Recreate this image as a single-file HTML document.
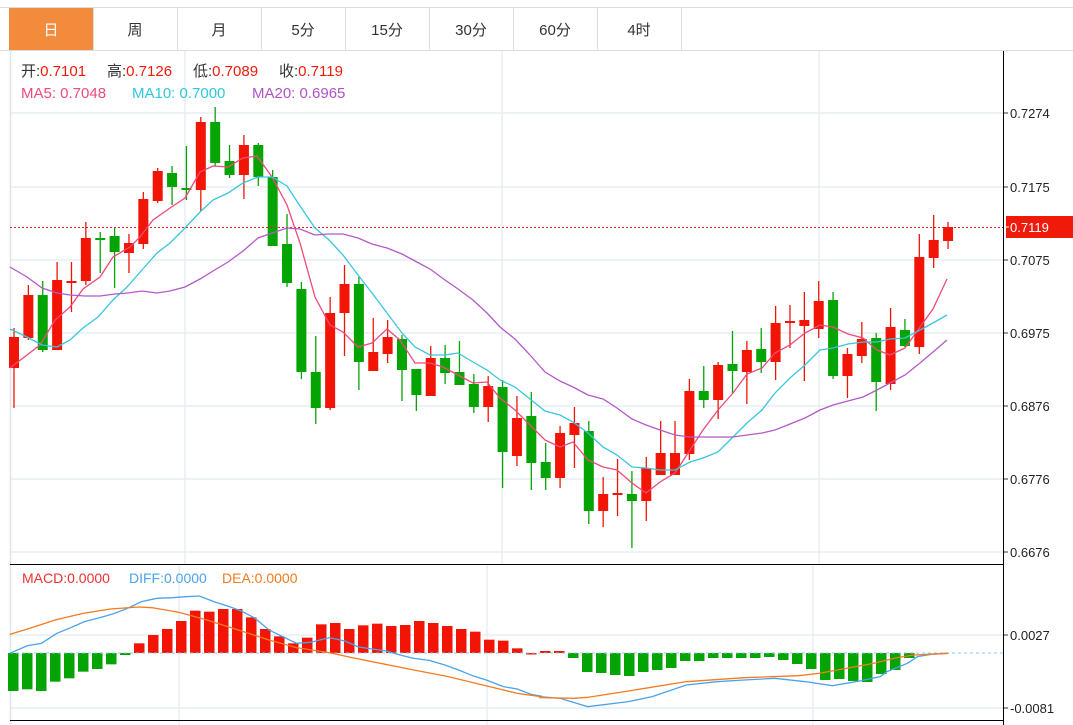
<!DOCTYPE html>
<html><head><meta charset="utf-8"><style>
body{margin:0;background:#fff;width:1073px;height:725px;overflow:hidden;font-family:"Liberation Sans","Noto Sans CJK SC",sans-serif}
svg{position:absolute;left:0;top:0}
</style></head><body>
<svg id="s" width="1073" height="725" xmlns="http://www.w3.org/2000/svg" font-family="Liberation Sans, Noto Sans CJK SC, sans-serif">
<rect x="9" y="8" width="84" height="42" fill="#f28c3c"/>
<line x1="0" y1="7.5" x2="1073" y2="7.5" stroke="#ddd"/>
<line x1="0" y1="50.5" x2="1073" y2="50.5" stroke="#ddd"/>
<g stroke="#ddd"><line x1="93.5" y1="8" x2="93.5" y2="50"/><line x1="177.5" y1="8" x2="177.5" y2="50"/><line x1="261.5" y1="8" x2="261.5" y2="50"/><line x1="345.5" y1="8" x2="345.5" y2="50"/><line x1="429.5" y1="8" x2="429.5" y2="50"/><line x1="513.5" y1="8" x2="513.5" y2="50"/><line x1="597.5" y1="8" x2="597.5" y2="50"/><line x1="681.5" y1="8" x2="681.5" y2="50"/></g>
<g font-size="15" text-anchor="middle" fill="#333">
<text x="51" y="35" fill="#fff">日</text><text x="135" y="35">周</text><text x="219" y="35">月</text><text x="303" y="35">5分</text><text x="387" y="35">15分</text><text x="471" y="35">30分</text><text x="555" y="35">60分</text><text x="639" y="35">4时</text>
</g>
<g id="grid" stroke="#e6edf3" stroke-width="1.5"></g>
<line x1="10.5" y1="51" x2="10.5" y2="725" stroke="#dde3ea" stroke-width="1.5"/>
<g id="cs"></g>
<line x1="10" y1="227.5" x2="1003" y2="227.5" stroke="#e02020" stroke-dasharray="2,2"/>
<g id="ma" fill="none" stroke-width="1.3"></g>
<line x1="10" y1="564.5" x2="1003" y2="564.5" stroke="#000"/>
<line x1="10" y1="720.5" x2="1003" y2="720.5" stroke="#000"/>
<line x1="1003.5" y1="51" x2="1003.5" y2="725" stroke="#000"/>
<rect x="1006" y="216" width="67" height="22" fill="#f01a0a"/>
<g font-size="13" fill="#222" id="ax"></g>
<g font-size="15">
<text y="76" fill="#333"><tspan x="21">开:</tspan><tspan fill="#f01a0a">0.7101</tspan><tspan x="107" fill="#333">高:</tspan><tspan fill="#f01a0a">0.7126</tspan><tspan x="193" fill="#333">低:</tspan><tspan fill="#f01a0a">0.7089</tspan><tspan x="279" fill="#333">收:</tspan><tspan fill="#f01a0a">0.7119</tspan></text>
<text y="98" fill="#ee4a7a"><tspan x="21">MA5: 0.7048</tspan><tspan x="132" fill="#2ec7db">MA10: 0.7000</tspan><tspan x="252" fill="#b053c6">MA20: 0.6965</tspan></text>
</g>
<g font-size="14"><text y="583" fill="#f03030"><tspan x="22">MACD:0.0000</tspan><tspan x="129" fill="#4aa3ec">DIFF:0.0000</tspan><tspan x="222" fill="#f57a20">DEA:0.0000</tspan></text></g>
</svg>
<script>
var NS="http://www.w3.org/2000/svg";
function el(p,t,a){var e=document.createElementNS(NS,t);for(var k in a)e.setAttribute(k,a[k]);p.appendChild(e);return e;}
var g=document.getElementById('grid');
[113,187,260,333,406,479,552,635,708].forEach(function(y){el(g,'line',{x1:10,x2:1003,y1:y,y2:y});});
[185,502,819].forEach(function(x){el(g,'line',{x1:x,x2:x,y1:51,y2:564});});
[179,487,813].forEach(function(x){el(g,'line',{x1:x,x2:x,y1:565,y2:725});});
var ax=document.getElementById('ax');
[[113,'0.7274'],[187,'0.7175'],[260,'0.7075'],[333,'0.6975'],[406,'0.6876'],[479,'0.6776'],[552,'0.6676'],[635,'0.0027'],[708,'-0.0081']].forEach(function(a){
 el(ax,'line',{x1:1004,x2:1008,y1:a[0],y2:a[0],stroke:'#333'});
 var t=el(ax,'text',{x:1010,y:a[0]+5});t.textContent=a[1];});
var lt=el(ax,'text',{x:1010,y:232,fill:'#fff'});lt.textContent='0.7119';
el(ax,'line',{x1:1006,x2:1009,y1:227,y2:227,stroke:'#fff'});
var C=[[337,368,328,408,'r'],[295,338,285,340,'r'],[295,350,281,352,'g'],[280,350,262,350,'r'],[281,283,262,312,'r'],[238,281,222,285,'r'],[238,240,232,273,'g'],[236,252,228,288,'g'],[243,253,234,273,'r'],[199,244,192,249,'r'],[171,201,168,203,'r'],[173,187,166,205,'g'],[188,190,146,200,'g'],[122,190,117,211,'r'],[122,163,107,166,'g'],[161,175,145,178,'g'],[145,175,135,199,'r'],[145,177,143,186,'g'],[177,246,170,246,'g'],[244,283,214,287,'g'],[289,372,282,379,'g'],[372,408,336,424,'g'],[313,408,297,410,'r'],[284,313,265,356,'r'],[284,362,277,390,'g'],[352,371,318,371,'r'],[337,354,320,363,'r'],[339,370,335,401,'g'],[369,395,369,411,'g'],[358,396,346,396,'r'],[358,373,345,384,'g'],[372,385,341,383,'g'],[384,407,374,413,'g'],[386,407,376,422,'r'],[387,452,380,488,'g'],[418,456,396,466,'r'],[416,463,392,490,'g'],[462,478,443,490,'g'],[433,478,426,488,'r'],[423,435,407,468,'r'],[431,511,421,524,'g'],[494,511,477,527,'r'],[493,495,459,516,'r'],[494,501,471,548,'g'],[468,501,457,521,'r'],[453,475,421,475,'r'],[453,475,421,475,'r'],[391,454,379,460,'r'],[391,400,366,408,'g'],[365,400,362,419,'r'],[364,371,331,393,'g'],[350,372,341,404,'r'],[349,362,328,373,'g'],[323,362,306,380,'r'],[321,323,305,348,'r'],[320,326,292,381,'r'],[301,329,281,338,'r'],[300,376,292,379,'g'],[354,376,348,398,'r'],[339,356,322,363,'r'],[338,382,333,411,'g'],[327,384,308,390,'r'],[330,346,319,347,'g'],[257,347,234,354,'r'],[240,258,215,268,'r'],[227,241,222,249,'r']];
var cs=document.getElementById('cs');
C.forEach(function(c,i){var x=14+i*14.37;var col=c[4]=='r'?'#f21505':'#04a404';
 el(cs,'line',{x1:x,x2:x,y1:c[2],y2:c[3],stroke:col,'stroke-width':1.3});
 el(cs,'rect',{x:x-5,y:c[0],width:10,height:Math.max(2,c[1]-c[0]),fill:col});});
function pl(p,pts,col,extra){var a={points:pts.map(function(q){return q.join(',')}).join(' '),stroke:col,fill:'none','stroke-width':1.3};for(var k in extra)a[k]=extra[k];el(p,'polyline',a);}
var ma=document.getElementById('ma');
pl(ma,[[10,368],[40,345],[55,320],[70,307],[83,289],[100,277],[113,257],[130,247],[140,237],[153,220],[170,208],[185,198],[200,172],[213,166],[228,167],[243,158],[257,156],[272,177],[287,205],[300,243],[315,297],[330,325],[343,332],[358,347],[372,343],[387,329],[400,340],[415,363],[430,363],[443,367],[458,375],[473,383],[487,382],[500,398],[515,410],[530,425],[545,440],[560,447],[573,442],[588,460],[603,467],[617,470],[632,483],[646,493],[660,482],[675,473],[690,450],[703,430],[718,410],[733,393],[747,374],[762,368],[775,353],[790,345],[805,333],[820,325],[833,327],[848,334],[863,338],[877,350],[890,355],[905,348],[920,327],[933,309],[947,279]],'#ee4a7a');
pl(ma,[[10,329],[27,337],[42,345],[57,347],[70,340],[83,328],[98,317],[113,300],[127,287],[142,270],[157,253],[170,243],[185,228],[200,212],[213,200],[228,193],[243,183],[258,177],[272,177],[287,186],[300,206],[315,228],[328,239],[343,255],[358,275],[372,293],[387,313],[402,333],[415,347],[430,355],[445,355],[458,353],[473,362],[487,370],[500,380],[515,387],[530,399],[545,411],[560,415],[573,422],[588,433],[603,447],[617,455],[632,467],[646,468],[660,470],[675,470],[690,462],[703,458],[718,452],[733,437],[747,423],[762,410],[775,393],[790,378],[805,365],[820,350],[833,348],[848,344],[863,342],[877,342],[890,339],[905,338],[920,330],[933,323],[947,315]],'#38c6dc');
pl(ma,[[10,267],[27,277],[42,288],[57,293],[70,295],[85,296],[100,296],[115,294],[128,293],[142,291],[157,293],[170,291],[185,287],[200,279],[213,271],[228,262],[243,251],[258,238],[272,233],[287,228],[300,229],[315,235],[328,234],[343,234],[358,238],[372,244],[387,248],[402,254],[415,261],[430,269],[445,280],[458,289],[473,300],[487,313],[500,327],[515,339],[530,355],[545,372],[560,381],[573,387],[588,395],[603,399],[617,408],[632,419],[646,425],[660,430],[675,435],[690,437],[733,437],[747,435],[762,433],[775,430],[790,424],[805,418],[820,410],[833,405],[848,401],[863,397],[877,390],[890,383],[905,375],[920,363],[933,352],[947,340]],'#b45ac8');
var Z=653;
var G1=[408,403,408,380,370,350,342,328,300];
var R=[265,240,222,198,167,170,162,162,187,222,244,265,248,208,204,222,211,206,213,210,198,204,213,222,230,254,257,280];
var H=[];G1.forEach(function(v){H.push(555+v/3)});R.forEach(function(v){H.push(555+v/3)});H.push(653);H.push(651);H.push(651);
[658,672,673,675,676,672,670,668,661,661,658,658,658,658,657,660,664,669,680,679,681,682,674,670,658].forEach(function(v){H.push(v)});
H.forEach(function(y,i){var x=13+i*14.0;var col=y>Z?'#04a404':'#f21505';
 var t=Math.min(y,Z),h=Math.max(1.5,Math.abs(y-Z));
 el(ma,'rect',{x:x-5,y:t,width:10.5,height:h,fill:col,stroke:'none'});});
el(ma,'line',{x1:10,x2:1003,y1:Z,y2:Z,stroke:'#8cc8ea','stroke-dasharray':'3,3','stroke-width':1});
function cv(a,ox,sx){return a.map(function(q){return [q[0]/sx+ox,q[1]/3+555]});}
var d1=cv([[28,295],[80,272],[120,265],[165,235],[205,218],[245,200],[290,188],[330,176],[370,160],[410,140],[455,130],[500,128],[540,125],[578,123],[620,140],[665,155],[700,168],[740,190],[780,225],[820,245],[860,265],[900,262],[955,248],[1000,258],[1040,276],[1080,282],[1120,288],[1160,300],[1200,310],[1245,316],[1290,330],[1330,345],[1370,362],[1410,375],[1460,395],[1500,402],[1540,418],[1568,423]],0,2.9);
var d2=cv([[0,425],[60,430],[140,455],[260,440],[330,425],[430,390],[520,380],[600,375],[690,370],[780,380],[860,392],[940,378],[1000,365],[1020,350],[1080,325],[1110,305],[1150,298],[1200,295]],540,2.94);
pl(ma,d1.concat(d2),'#4aa3ec');
var e1=cv([[28,238],[80,222],[160,195],[240,175],[320,162],[400,156],[440,158],[520,172],[600,195],[700,228],[780,255],[860,278],[950,292],[1040,312],[1200,345],[1300,365],[1400,390],[1500,415],[1568,425]],0,2.9);
var e2=cv([[0,428],[100,430],[140,427],[260,408],[430,380],[600,368],[760,362],[820,355],[900,340],[980,325],[1050,308],[1100,300],[1200,295]],540,2.94);
pl(ma,e1.concat(e2),'#f57a20');
</script>
</body></html>
